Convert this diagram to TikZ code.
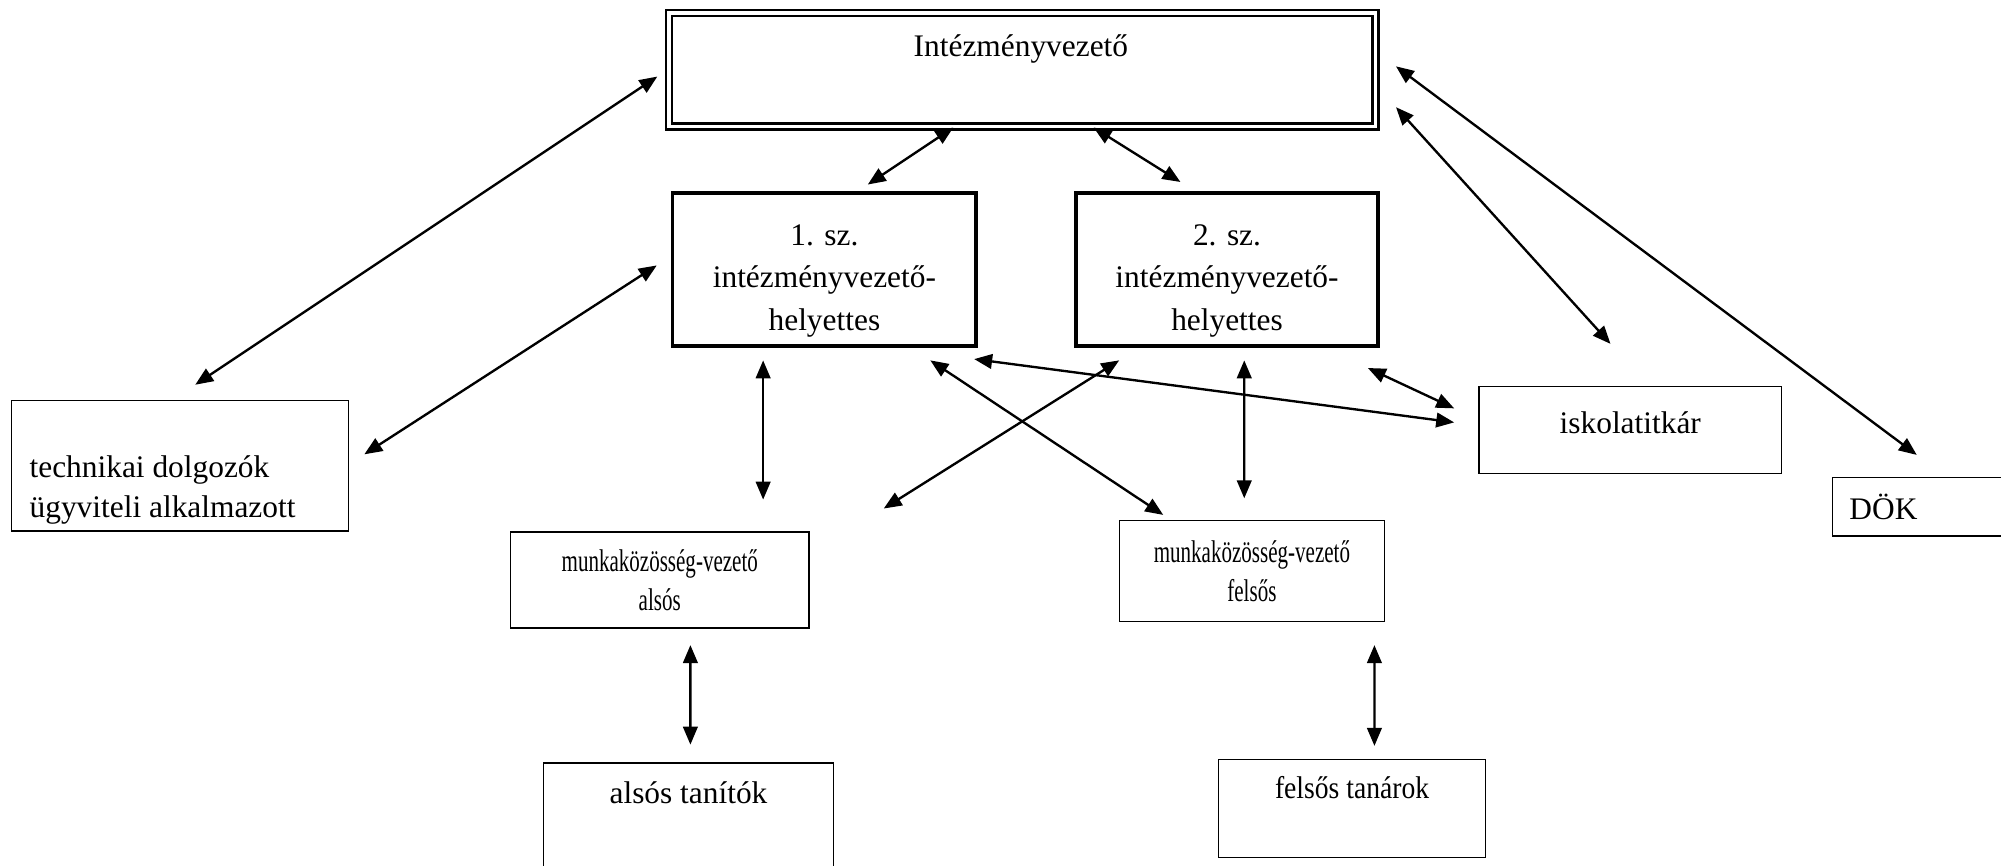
\documentclass[tikz,border=0pt]{standalone}
\usepackage{fontspec}
\setmainfont{Liberation Serif}
\newfontfamily\narrowfont[FakeStretch=0.67]{Liberation Serif}
\newfontfamily\halfnarrowfont[FakeStretch=0.88]{Liberation Serif}
\usetikzlibrary{arrows.meta,calc}
\tikzset{
    box/.style={draw, line width=0.6pt, inner sep=0pt},
    thickbox/.style={draw, line width=1.6pt, inner sep=0pt},
    dblbox/.style={draw, line width=1.1pt, double, double distance=1.6pt, inner sep=0pt},
    mkbox/.style={box, align=center, font=\narrowfont\fontsize{14}{17.5}\selectfont},
    arr/.style={<->, line width=1.05pt},
    >={Triangle[length=8pt,width=6.5pt]}
}
\begin{document}
\begin{tikzpicture}[x=0.02cm, y=-0.02cm, font=\fontsize{14}{19}\selectfont]
        \useasboundingbox (0,0) rectangle (1568,678);
        \node[dblbox, minimum width=11.08cm, minimum height=1.78cm] (top) at (801,54.5) {};
        \node (topt) at (800,38) {Intézményvezető};
        \node[thickbox, minimum width=4.76cm, minimum height=2.4cm] (d1) at (646,211) {};
        \node[align=center] (d1t) at (646,220) {1. sz.\\intézményvezető-\\helyettes};
        \node[thickbox, minimum width=4.74cm, minimum height=2.4cm] (d2) at (961.5,211) {};
        \node[align=center] (d2t) at (961.5,220) {2. sz.\\intézményvezető-\\helyettes};
        \node[box, minimum width=5.28cm, minimum height=2.04cm] (tech) at (141,365) {};
        \node[anchor=west, align=left, font=\fontsize{14}{18}\selectfont] (techt) at (17,384) {technikai dolgozók\\ügyviteli alkalmazott};
        \node[box, minimum width=4.74cm, minimum height=1.36cm] (titk) at (1277.5,337) {};
        \node (titkt) at (1277.5,331) {iskolatitkár};
        \node[box, minimum width=3cm, minimum height=0.92cm] (dok) at (1511,397) {};
        \node[anchor=west] (dokt) at (1443,397) {DÖK};
        \node[mkbox, minimum width=4.68cm, minimum height=1.5cm] (malso) at (517,454.5) {munkaközösség-vezető\\alsós};
        \node[mkbox, minimum width=4.16cm, minimum height=1.58cm] (mfelso) at (981,447.5) {munkaközösség-vezető\\felsős};
        \node[box, minimum width=4.54cm, minimum height=2.04cm] (atan) at (539.5,649) {};
        \node (atant) at (539.5,621) {alsós tanítók};
        \node[box, minimum width=4.18cm, minimum height=1.54cm] (ftan) at (1059.5,633.5) {};
        \node[font=\halfnarrowfont\fontsize{14}{19}\selectfont] (ftant) at (1059.5,617) {felsős tanárok};
        \draw[arr] ($(top.west)+(-8,5.5)$) -- ($(tech.north)+(12,-12)$);
        \draw[arr] ($(d1.west)+(-11,-3)$) -- ($(tech.east)+(12,-9)$);
        \draw[arr] ($(top.south)+(-54,0)$) -- ($(d1.north)+(34,-5)$);
        \draw[arr] ($(top.south)+(56,0)$) -- ($(d2.north)+(-36.5,-7)$);
        \draw[arr] ($(top.east)+(15,29.5)$) -- ($(titk.north)+(-15.5,-33)$);
        \draw[arr] ($(top.east)+(15,-2.5)$) -- ($(dok.north)+(-9,-17)$);
        \draw[arr] ($(d1.south)+(-48,10)$) -- ($(malso.north)+(81,-25)$);
        \draw[arr] ($(d1.south)+(83,10)$) -- ($(mfelso.north west)+(35,-4)$);
        \draw[arr] ($(d2.south)+(-84.5,10)$) -- ($(malso.north east)+(58,-18)$);
        \draw[arr] ($(d1.south east)+(-3,9)$) -- ($(titk.west)+(-19,-6)$);
        \draw[arr] ($(d2.south)+(13.5,10)$) -- ($(mfelso.north)+(-6,-17)$);
        \draw[arr] ($(d2.south east)+(-9.5,16)$) -- ($(titk.west)+(-19,-17)$);
        \draw[arr] ($(malso.south)+(24,13)$) -- ($(atan.north)+(1.5,-14)$);
        \draw[arr] ($(mfelso.south)+(96,18)$) -- ($(ftan.north)+(17.5,-10)$);
    \end{tikzpicture}
\end{document}
